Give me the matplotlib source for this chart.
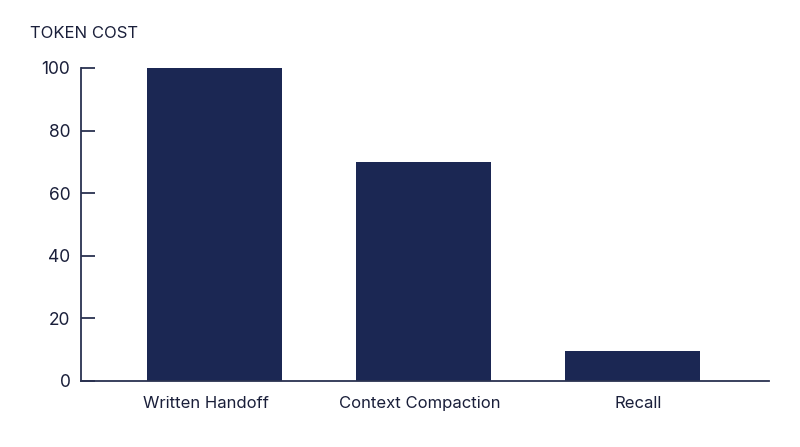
import matplotlib
matplotlib.use("Agg")
import matplotlib.pyplot as plt
from matplotlib.transforms import ScaledTranslation

categories = ["Written Handoff", "Context Compaction", "Recall"]
values = [100, 70, 9.5]
yticks = [0, 20, 40, 60, 80, 100]

bar_color = "#1b2753"
text_color = "#1a1f3a"
axis_color = "#2a3150"

plt.rcParams['font.family'] = ['Inter', 'DejaVu Sans']

fig = plt.figure(figsize=(8, 4.47), dpi=100)
ax = fig.add_axes([0.101, 0.1477, 0.86, 0.7003])

x = list(range(len(categories)))
ax.bar(x, values, width=0.646, color=bar_color, zorder=2)

ax.set_xlim(-0.64, 2.653)
ax.set_ylim(0, 100)
ax.set_yticks(yticks)
ax.set_yticklabels([str(v) for v in yticks])
ax.set_xticks(x)
ax.set_xticklabels(categories)

for s in ["top", "right"]:
    ax.spines[s].set_visible(False)
for s in ["left", "bottom"]:
    ax.spines[s].set_color(axis_color)
    ax.spines[s].set_linewidth(1.3)

ax.tick_params(axis="y", direction="in", length=10, width=1.3, color=axis_color,
               labelsize=12.5, labelcolor=text_color, pad=7.5)
ax.tick_params(axis="x", length=0, labelsize=12, labelcolor=text_color, pad=10.5)

# slight horizontal shifts of category labels as in the reference layout
label_shifts_px = [-8.5, -4, 5.5]
for lab, dx in zip(ax.get_xticklabels(), label_shifts_px):
    lab.set_transform(lab.get_transform() + ScaledTranslation(dx / 100, 0, fig.dpi_scale_trans))

fig.text(30/800, 1 - 33.5/447, "TOKEN COST", fontsize=12, color=text_color,
         ha="left", va="center")

fig.savefig("out.png", dpi=100, facecolor="white")
